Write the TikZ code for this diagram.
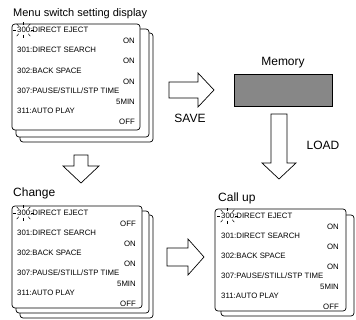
\documentclass[tikz,border=0pt]{standalone}
\usepackage{fontspec}
\setmainfont{Liberation Sans}
\usetikzlibrary{positioning}
\definecolor{memgray}{gray}{0.53}
\tikzset{
  card/.style={draw, fill=white, rounded corners=3pt, line width=0.7pt},
  rowtext/.style={font=\fontsize{7.8}{9}\selectfont, inner sep=0pt, anchor=west},
  valtext/.style={font=\fontsize{7.8}{9}\selectfont, inner sep=0pt, anchor=east},
  caption/.style={font=\fontsize{12}{14}\selectfont, inner sep=0pt},
  blockarrow/.style={draw, fill=white, line width=0.7pt, line join=miter},
  blink/.style={line width=0.5pt}
}

\begin{document}
\begin{tikzpicture}[x=1pt,y=-1pt]
\useasboundingbox (0,0) rectangle (356,320);

% setting display
\node[caption, font=\fontsize{11}{13}\selectfont, anchor=base west] (ttl) at (13,17) {Menu switch setting display};
\draw[card] (20,33) rectangle (153,142);
\draw[card] (16,29) rectangle (149,137);
\draw[card] (12,24) rectangle (140,130);
\foreach \lab/\val [count=\i from 0] in {300:DIRECT EJECT/ON, 301:DIRECT SEARCH/ON,
    302:BACK SPACE/ON, {307:PAUSE/STILL/STP TIME}/5MIN, 311:AUTO PLAY/OFF}
{
  \node[rowtext] (top-\i) at ({17},{30+20.2*\i}) {\lab};
  \node[valtext] (topv-\i) at ({135},{41+20.2*\i}) {\val};
}
\coordinate (top-blink) at ([xshift=6.5pt]top-0.west);
\foreach \a in {0,50,90,130,180,230,270,310}
  \draw[blink] (top-blink) ++(\a:7.5 and 5) -- ++(\a:3);

% memory
\node[draw, fill=memgray, line width=0.6pt, minimum width=98pt, minimum height=32pt, inner sep=0pt] (mem) at (283,90) {};
\node[caption, above=6pt of mem] (memlbl) {Memory};

\draw[blockarrow] (169,82) -- (198,82) -- (198,73) -- (214,90) -- (198,107) -- (198,98) -- (169,98) -- cycle;
\node[caption] (save) at (190,118) {SAVE};
\draw[blockarrow] (271,114) -- (271,163) -- (262,163) -- (279,179) -- (296,163) -- (287,163) -- (287,114) -- cycle;
\node[caption] (load) at (323,145) {LOAD};
\draw[blockarrow] (74,155) -- (74,166) -- (63,166) -- (81,183) -- (99,166) -- (88,166) -- (88,155) -- cycle;
\draw[blockarrow] (167,248) -- (188,248) -- (188,239) -- (204,257) -- (188,275) -- (188,266) -- (167,266) -- cycle;

% change
\node[caption, anchor=base west] (chgttl) at (13,197) {Change};
\draw[card] (20,215) rectangle (153,318);
\draw[card] (16,211) rectangle (149,313);
\draw[card] (12,206) rectangle (142,308);
\foreach \lab/\val [count=\i from 0] in {300:DIRECT EJECT/OFF, 301:DIRECT SEARCH/ON,
    302:BACK SPACE/ON, {307:PAUSE/STILL/STP TIME}/5MIN, 311:AUTO PLAY/OFF}
{
  \node[rowtext] (chg-\i) at ({17},{213+20*\i}) {\lab};
  \node[valtext] (chgv-\i) at ({136},{224+20*\i}) {\val};
}
\coordinate (chg-blink) at ([xshift=6.5pt]chg-0.west);
\foreach \a in {0,50,90,130,180,230,270,310}
  \draw[blink] (chg-blink) ++(\a:7.5 and 5) -- ++(\a:3);

% call up
\node[caption, anchor=base west] (calttl) at (218,202) {Call up};
\draw[card] (221,215) rectangle (354,316);
\draw[card] (215,209) rectangle (346,311);
\foreach \lab/\val [count=\i from 0] in {300:DIRECT EJECT/ON, 301:DIRECT SEARCH/ON,
    302:BACK SPACE/ON, {307:PAUSE/STILL/STP TIME}/5MIN, 311:AUTO PLAY/OFF}
{
  \node[rowtext] (cal-\i) at ({221},{216+20*\i}) {\lab};
  \node[valtext] (calv-\i) at ({339},{227+20*\i}) {\val};
}
\coordinate (cal-blink) at ([xshift=6.5pt]cal-0.west);
\foreach \a in {0,50,90,130,180,230,270,310}
  \draw[blink] (cal-blink) ++(\a:7.5 and 5) -- ++(\a:3);
\end{tikzpicture}
\end{document}
